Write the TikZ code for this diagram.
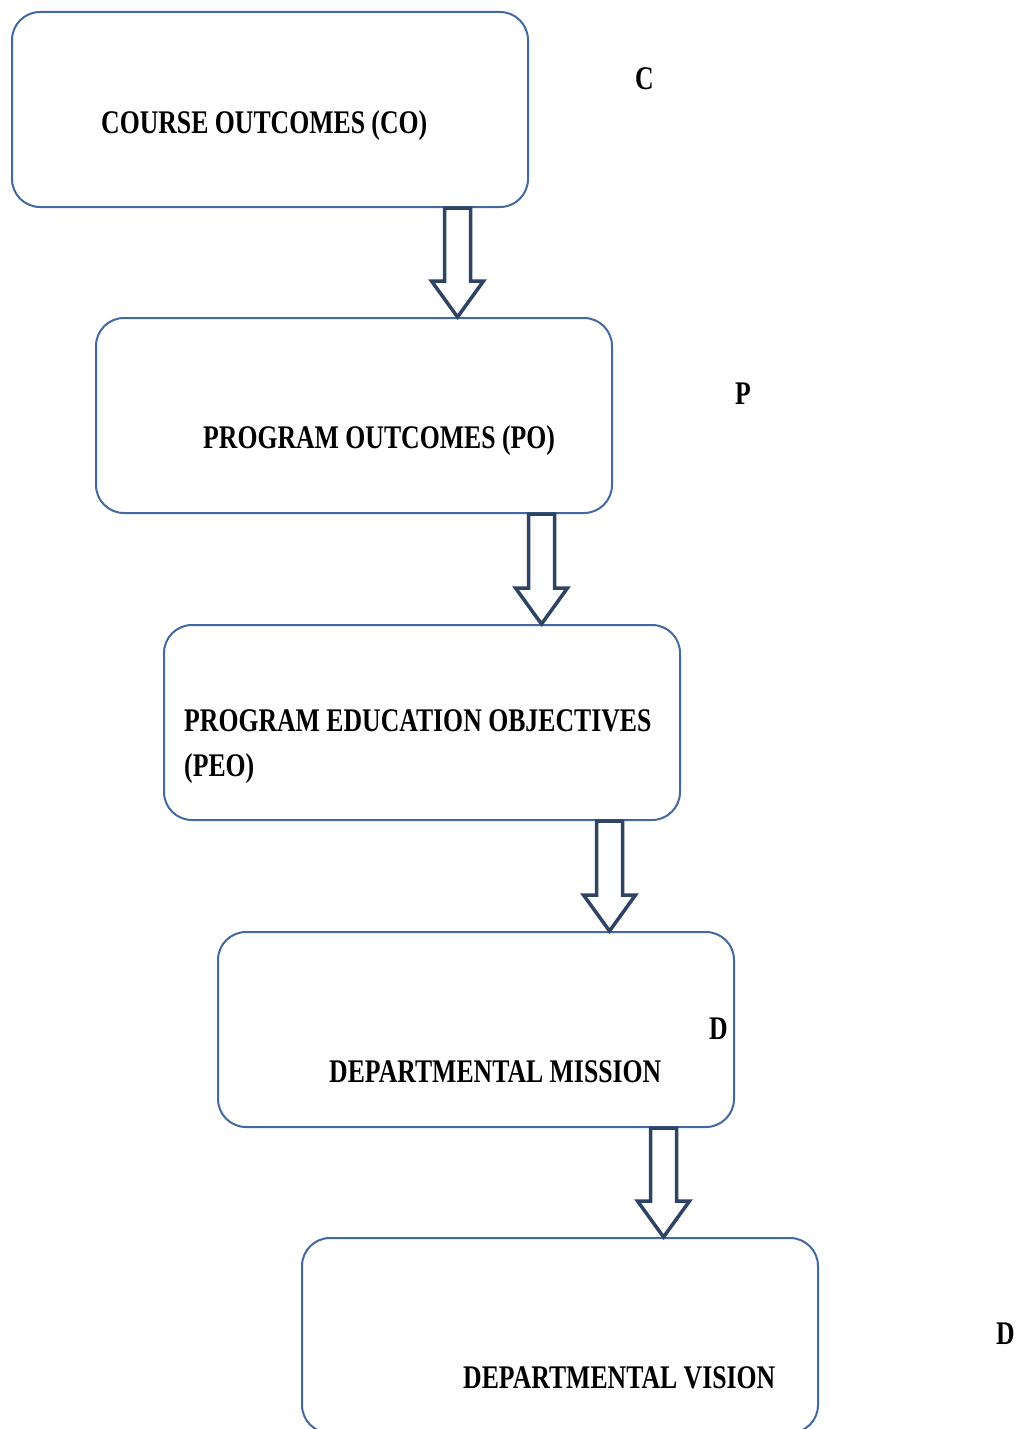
\documentclass[tikz,border=0pt]{standalone}
\usepackage{fontspec}
\setmainfont{Liberation Serif}[FakeStretch=0.78]
\usetikzlibrary{calc}
\definecolor{boxline}{RGB}{68,104,160}
\definecolor{arrline}{RGB}{47,68,100}
\tikzset{
  box/.style={draw=boxline, line width=2pt, rounded corners=28pt, minimum width=516pt, minimum height=195pt, anchor=north west, inner sep=0pt},
  lbl/.style={anchor=base west, inner sep=0pt, font=\fontsize{33}{40}\selectfont\bfseries},
  barrow/.style={draw=arrline, line width=3.5pt, fill=white, line join=miter}
}
\newcommand\blockarrow[2]{%
  \draw[barrow] ($(#1)+(-13,0)$) -- ($(#2)+(-13,-36)$) -- ($(#2)+(-26,-36)$) -- (#2) -- ($(#2)+(26,-36)$) -- ($(#2)+(13,-36)$) -- ($(#1)+(13,0)$) -- cycle;}
\begin{document}
\begin{tikzpicture}[x=1pt,y=-1pt]
\useasboundingbox[fill=white] (0,0) rectangle (1021,1429);
\node[box] (co) at (11,11) {};
\node[box] (po) at (95,317) {};
\node[box] (peo) at (163,624) {};
\node[box] (dm) at (217,931) {};
\node[box] (dv) at (301,1237) {};
\node[lbl] (tco) at (101,133) {COURSE OUTCOMES (CO)};
\node[lbl] (tpo) at (203,448) {PROGRAM OUTCOMES (PO)};
\node[lbl] (tpeo1) at (184,731) {PROGRAM EDUCATION OBJECTIVES};
\node[lbl] (tpeo2) at (184,776) {(PEO)};
\node[lbl] (tdm) at (329,1082) {DEPARTMENTAL MISSION};
\node[lbl] (tdv) at (463,1388) {DEPARTMENTAL VISION};
\node[lbl] (lc) at (635,89) {C};
\node[lbl] (lp) at (735,404) {P};
\node[lbl] (ld1) at (709,1039) {D};
\node[lbl] (ld2) at (996,1344) {D};
\foreach \a/\b in {co/po,po/peo,peo/dm,dm/dv}{
  \coordinate (s\a) at ($(\a.south west)!0.862!(\a.south east)$);
  \coordinate (e\a) at (s\a |- \b.north);
  \blockarrow{s\a}{e\a}
}
\end{tikzpicture}
\end{document}
